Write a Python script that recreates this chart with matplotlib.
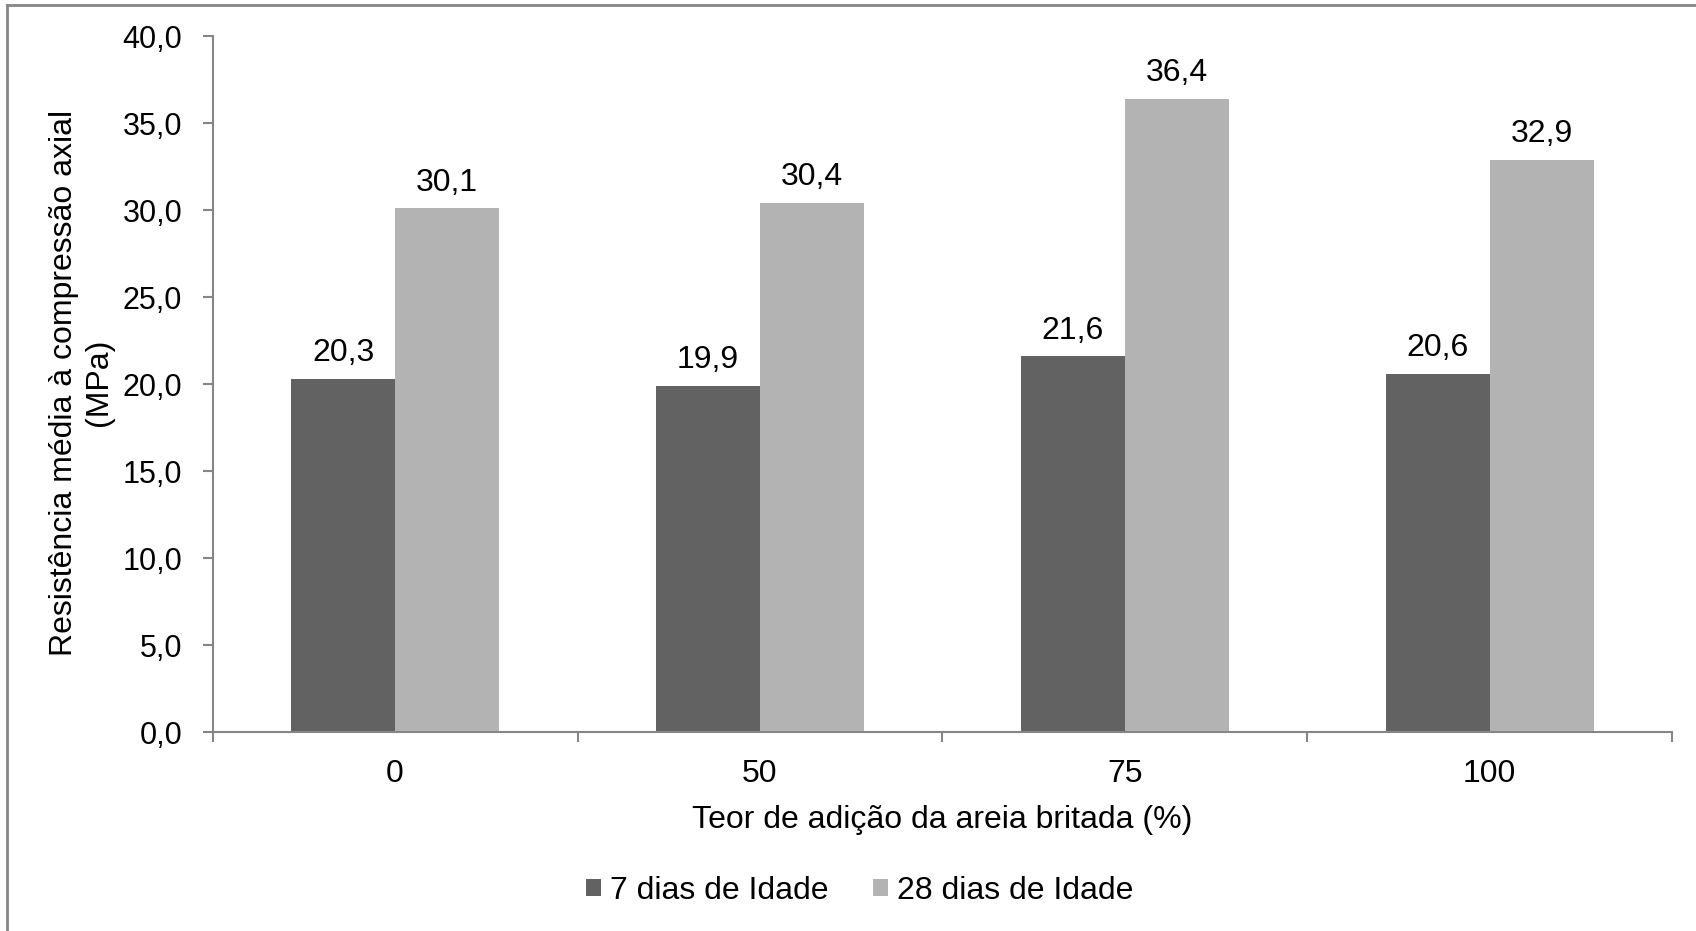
import matplotlib
matplotlib.use("Agg")
import matplotlib.pyplot as plt
from matplotlib.lines import Line2D
import numpy as np

plt.rcParams['font.family'] = ['Liberation Sans', 'DejaVu Sans']

categories = ["0", "50", "75", "100"]
series_names = ["7 dias de Idade", "28 dias de Idade"]
dias7 = [20.3, 19.9, 21.6, 20.6]
dias28 = [30.1, 30.4, 36.4, 32.9]
colors = ["#626262", "#b3b3b3"]
axis_color = "#868686"
fs = 23
fs_y = 22

W, H = 1696, 931
fig = plt.figure(figsize=(W/100, H/100), dpi=100)
ax_left, ax_right, ax_top, ax_bottom = 212.7, 1672, 36, 732.3
ax = fig.add_axes([ax_left/W, 1 - ax_bottom/H, (ax_right - ax_left)/W, (ax_bottom - ax_top)/H])

x = np.arange(len(categories))
w = 0.285
b1 = ax.bar(x - w/2, dias7, width=w, color=colors[0], label=series_names[0])
b2 = ax.bar(x + w/2, dias28, width=w, color=colors[1], label=series_names[1])

for bars, vals in ((b1, dias7), (b2, dias28)):
    for rect, v in zip(bars, vals):
        ax.annotate(f"{v:.1f}".replace(".", ","),
                    (rect.get_x() + rect.get_width()/2, v),
                    xytext=(0, 12.7), textcoords="offset points",
                    ha="center", va="baseline", fontsize=fs)

ax.set_xlim(-0.5, len(categories) - 0.5)
ax.set_ylim(0, 40)
yt = np.arange(0, 41, 5)
ax.set_yticks(yt)
ax.set_yticklabels([f"{v:.1f}".replace(".", ",") for v in yt], fontsize=fs_y)

# boundary ticks between categories, labels at the centres
ax.set_xticks(np.arange(-0.5, len(categories), 1.0))
ax.set_xticklabels([])
ax.set_xticks(x, minor=True)
ax.set_xticklabels(categories, minor=True, fontsize=fs)
ax.tick_params(axis="x", which="major", length=7, width=1.5, color=axis_color, direction="out")
ax.tick_params(axis="x", which="minor", length=0, pad=19.5)
ax.tick_params(axis="y", length=7, width=1.5, color=axis_color, pad=15)

for s in ("top", "right"):
    ax.spines[s].set_visible(False)
for s in ("left", "bottom"):
    ax.spines[s].set_color(axis_color)
    ax.spines[s].set_linewidth(1.5)

# y-axis title, two centred lines
ycen = 1 - 382.6/H
fig.text(71.7/W, ycen, "Resistência média à compressão axial", rotation=90,
         rotation_mode="anchor", ha="center", va="baseline", fontsize=fs)
fig.text(107/W, ycen, "(MPa)", rotation=90,
         rotation_mode="anchor", ha="center", va="baseline", fontsize=fs)

# x-axis title
fig.text((ax_left + ax_right)/2/W, 1 - 828/H, "Teor de adição da areia britada (%)",
         ha="center", va="baseline", fontsize=fs)

fig.legend(handles=[b1, b2], loc="center", bbox_to_anchor=(859.5/W, 1 - 891/H),
           ncol=2, frameon=False, fontsize=fs, handlelength=0.47, handleheight=0.47,
           handletextpad=0.27, columnspacing=1.4, borderaxespad=0, borderpad=0)

# outer chart-area frame
fig.add_artist(Line2D([7/W, 7/W], [0, 1 - 5.3/H], transform=fig.transFigure,
                      color=axis_color, lw=2))
fig.add_artist(Line2D([7/W, 1], [1 - 5.3/H, 1 - 5.3/H], transform=fig.transFigure,
                      color=axis_color, lw=2))

fig.savefig("out.png", dpi=100)
